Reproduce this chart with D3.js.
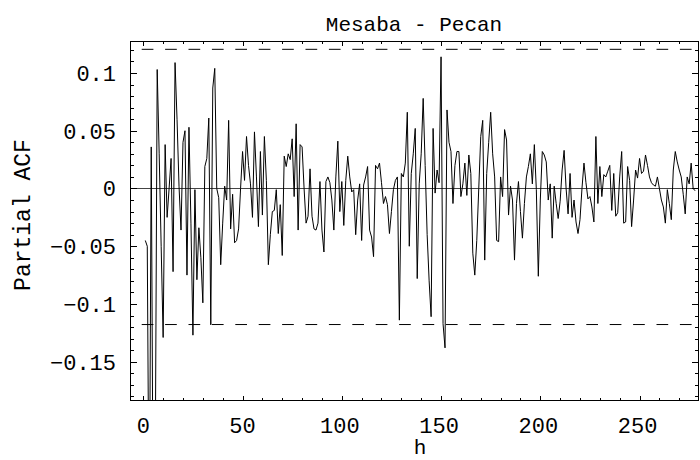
<!doctype html>
<html lang="en">
<head>
<meta charset="utf-8">
<style>
body { margin: 0; background: #fff; }
svg text { font-family: "Liberation Mono", "Courier New", monospace; fill: #000; }
</style>
</head>
<body>
<svg id="chart" width="700" height="460"></svg>
<script src="https://cdn.jsdelivr.net/npm/d3@7/dist/d3.min.js"></script>
<script>
// partial autocorrelation, lags 1..n
var pacf = [
  -0.045, -0.050, -0.320, 0.036, -0.300, -0.250, 0.103, 0.030, -0.050, -0.129,
  0.038, -0.025, 0.000, 0.026, -0.072, 0.109, 0.060, 0.002, -0.036, 0.040,
  0.050, -0.075, 0.053, -0.030, -0.127, -0.001, -0.079, -0.034, -0.060, -0.099,
  0.019, 0.026, 0.061, -0.118, 0.087, 0.104, 0.000, -0.008, -0.066, -0.030,
  0.002, -0.010, 0.059, -0.035, -0.005, -0.047, -0.045, -0.035, 0.000, 0.032,
  0.007, 0.045, 0.020, 0.004, -0.025, 0.049, 0.010, -0.033, 0.032, -0.023,
  0.045, 0.007, -0.066, -0.040, -0.020, -0.019, -0.001, -0.039, -0.014, -0.058,
  0.028, 0.019, 0.030, 0.025, 0.043, -0.007, 0.056, -0.036, 0.038, 0.036,
  0.000, -0.030, -0.024, 0.017, -0.024, -0.035, -0.036, -0.030, 0.006, -0.036,
  -0.055, 0.006, 0.010, 0.005, -0.010, -0.036, 0.010, 0.041, -0.020, 0.006,
  -0.032, 0.007, 0.028, 0.010, -0.003, -0.001, -0.040, -0.010, 0.004, -0.045,
  0.003, 0.010, 0.019, -0.036, -0.042, -0.059, 0.020, 0.017, 0.022, 0.005,
  -0.013, -0.007, -0.014, -0.039, -0.020, -0.001, 0.007, 0.010, -0.114, 0.013,
  0.010, 0.022, 0.066, -0.050, 0.013, 0.030, 0.052, -0.078, 0.004, 0.030,
  0.078, 0.020, -0.040, -0.080, -0.111, 0.052, -0.004, 0.016, 0.005, 0.114,
  -0.117, -0.138, 0.068, 0.040, 0.032, -0.013, 0.020, 0.032, 0.032, -0.007,
  0.004, 0.022, -0.006, 0.029, 0.013, -0.056, -0.075, -0.045, 0.000, 0.045,
  0.059, -0.062, 0.013, 0.040, 0.066, 0.030, 0.010, -0.045, -0.046, 0.010,
  -0.007, 0.051, 0.042, -0.023, 0.002, -0.010, -0.062, -0.013, 0.006, -0.020,
  -0.043, -0.013, 0.010, 0.019, 0.030, 0.004, 0.038, -0.001, -0.076, -0.010,
  0.032, 0.029, 0.023, -0.010, 0.004, -0.043, 0.002, -0.013, -0.026, -0.011,
  0.016, 0.033, 0.000, -0.022, 0.013, -0.025, -0.010, -0.029, -0.039, -0.027,
  0.000, 0.022, 0.005, -0.009, -0.007, -0.016, -0.029, 0.045, -0.013, 0.019,
  -0.007, 0.012, 0.010, 0.015, 0.020, -0.019, 0.013, -0.024, -0.021, 0.010,
  0.032, -0.030, -0.029, 0.019, 0.007, -0.033, -0.010, 0.016, 0.009, 0.026,
  0.013, 0.015, 0.029, 0.020, 0.010, 0.005, 0.003, 0.002, 0.010, 0.000,
  -0.010, -0.016, -0.030, -0.001, -0.013, -0.027, 0.016, 0.032, 0.023, 0.016,
  0.010, -0.005, -0.022, 0.010, 0.004, 0.022, 0.000, -0.002
];
var bandUpper = 0.1205;
var bandLower = -0.1178;
var xTicks = [0, 50, 100, 150, 200, 250];
var yTicks = [-0.15, -0.1, -0.05, 0, 0.05, 0.1];
var yTickLabels = ["\u22120.15", "\u22120.1", "\u22120.05", "0", "0.05", "0.1"];

var svg = d3.select("#chart");
var L = 130, R = 699, T = 41, B = 401;

var x = d3.scaleLinear().domain([-6.7, 279.95]).range([L, R]);
var y = d3.scaleLinear().domain([-0.184, 0.1277]).range([B, T]);

svg.append("rect").attr("width", 700).attr("height", 460).attr("fill", "#fff");

svg.append("defs").append("clipPath").attr("id", "plotclip")
  .append("rect").attr("x", L).attr("y", T).attr("width", R - L).attr("height", B - T);

var plot = svg.append("g").attr("clip-path", "url(#plotclip)");

// zero axis
plot.append("line")
  .attr("x1", L).attr("x2", R)
  .attr("y1", Math.round(y(0)) + 0.5).attr("y2", Math.round(y(0)) + 0.5)
  .attr("stroke", "#444").attr("stroke-width", 1);

// significance bands
[bandUpper, bandLower].forEach(function(b) {
  plot.append("line")
    .attr("x1", x(-0.8)).attr("x2", x(278))
    .attr("y1", y(b)).attr("y2", y(b))
    .attr("stroke", "#000").attr("stroke-width", 1)
    .attr("stroke-dasharray", "11.7,11.7");
});

var line = d3.line()
  .x(function(d, i) { return x(i + 1); })
  .y(function(d) { return y(d); });

plot.append("path")
  .datum(pacf)
  .attr("d", line)
  .attr("fill", "none")
  .attr("stroke", "#000")
  .attr("stroke-width", 1)
  .attr("stroke-linejoin", "miter");

// frame
svg.append("rect")
  .attr("x", L + 0.5).attr("y", T + 0.5)
  .attr("width", R - L - 1).attr("height", B - T - 1)
  .attr("fill", "none").attr("stroke", "#000").attr("stroke-width", 1);

// frame ticks
var ticks = svg.append("g").attr("stroke", "#000").attr("stroke-width", 1);
d3.range(0, 280, 10).forEach(function(t) {
  var len = (t % 50 === 0) ? 5 : 3;
  var px = Math.round(x(t)) + 0.5;
  ticks.append("line").attr("x1", px).attr("x2", px).attr("y1", B).attr("y2", B - len);
  ticks.append("line").attr("x1", px).attr("x2", px).attr("y1", T).attr("y2", T + len);
});
d3.range(-18, 13, 1).forEach(function(k) {
  var v = k / 100;
  var len = (k % 5 === 0) ? 7 : 4;
  var py = Math.round(y(v)) + 0.5;
  ticks.append("line").attr("x1", L).attr("x2", L + len).attr("y1", py).attr("y2", py);
  ticks.append("line").attr("x1", R).attr("x2", R - len).attr("y1", py).attr("y2", py);
});

// tick labels
svg.append("g").selectAll("text").data(xTicks).enter().append("text")
  .attr("x", function(d) { return x(d) - (d >= 100 ? 2 : 0); })
  .attr("y", 433)
  .attr("text-anchor", "middle")
  .attr("font-size", 22)
  .text(function(d) { return d; });

svg.append("g").selectAll("text").data(yTicks).enter().append("text")
  .attr("x", 116)
  .attr("y", function(d) { return y(d); })
  .attr("dy", "0.36em")
  .attr("text-anchor", "end")
  .attr("font-size", 22)
  .text(function(d, i) { return yTickLabels[i]; });

// titles
svg.append("text")
  .attr("x", 414).attr("y", 31)
  .attr("text-anchor", "middle")
  .attr("font-size", 21)
  .text("Mesaba - Pecan");

svg.append("text")
  .attr("x", 420).attr("y", 454)
  .attr("text-anchor", "middle")
  .attr("font-size", 21)
  .text("h");

svg.append("text")
  .attr("transform", "translate(30,215) rotate(-90)")
  .attr("text-anchor", "middle")
  .attr("font-size", 23)
  .text("Partial ACF");
</script>
</body>
</html>
